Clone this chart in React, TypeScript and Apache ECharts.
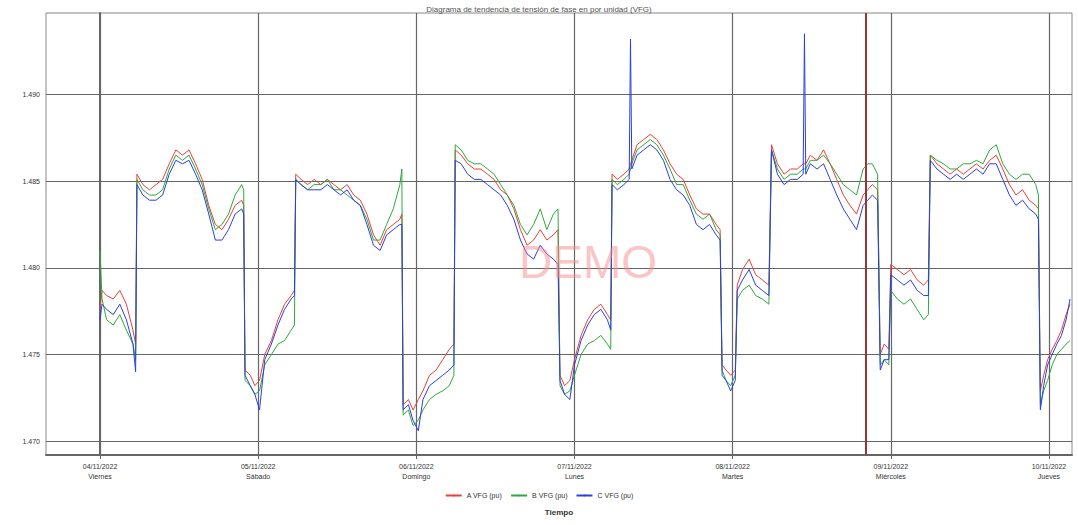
import React, { useEffect, useRef } from "react";
import * as echarts from "echarts";

// hours since 04/11/2022 00:00
const hours = [
  0, 0.3, 1, 2, 3, 4, 5, 5.4,
  5.6, 6.5, 7.5, 8.5, 9.5, 10.5, 11.5, 12.5, 13.5, 14.5, 15.5, 16.5, 17.5, 18.5, 19.5, 20.5, 21.5, 21.8,
  22.0, 22.8, 23.5, 24.2, 25, 26, 27, 28, 29, 29.5,
  29.7, 30.5, 31.5, 32.5, 33.5, 34.5, 35.5, 36.5, 37.5, 38.5, 39.5, 40.5, 41.5, 42.5, 43.5, 44.5, 45.5, 45.8,
  46.0, 46.8, 47.5, 48.3, 49, 50, 51, 52, 53, 53.7,
  53.9, 54.8, 55.8, 56.8, 57.8, 58.8, 59.8, 60.8, 61.8, 62.8, 63.8, 64.8, 65.8, 66.8, 67.8, 68.8, 69.5,
  69.8, 70.5, 71.3, 72, 73, 74, 75, 76, 77, 77.5,
  77.7, 78.5, 79.5, 80.3, 80.5, 80.7, 81.5, 82.5, 83.5, 84.5, 85.5, 86.5, 87.5, 88.5, 89.5, 90.5, 91.5, 92.5, 93.5, 94.1,
  94.4, 95, 95.7, 96.4,
  96.7, 97.5, 98.5, 99.5, 100.5, 101.5,
  101.9, 102.8, 103.8, 104.8, 105.8, 106.7, 106.9, 107.1, 107.8, 108.8, 109.8, 110.8, 111.8, 112.8, 113.8, 114.8, 115.8, 116.5, 117.2, 118.0,
  118.4, 119.0, 119.7,
  120, 121, 122, 123, 124, 125, 125.7,
  126, 127, 128, 129, 130, 131, 132, 133, 134, 135, 136, 137, 138, 139, 140, 141, 142, 142.4,
  142.7, 143.2, 143.8, 144.5, 145.2, 145.9, 146.6, 147.2,
];

const phaseA = [
  1.4776, 1.4787, 1.4784, 1.4782, 1.4787, 1.4779, 1.4764, 1.4756,
  1.4854, 1.4848, 1.4845, 1.4848, 1.4851, 1.486, 1.4868, 1.4865, 1.4868, 1.486, 1.4851, 1.4836, 1.4825, 1.4822, 1.4828, 1.4836, 1.4839, 1.4836,
  1.4741, 1.4738, 1.4732, 1.4735, 1.475, 1.4758, 1.477, 1.4779, 1.4784, 1.4787,
  1.4854, 1.4851, 1.4848, 1.4851, 1.4848, 1.4851, 1.4848, 1.4845, 1.4848, 1.4842, 1.4839, 1.4831, 1.4819, 1.4813, 1.4822, 1.4825, 1.4828, 1.4831,
  1.4721, 1.4724, 1.4718, 1.4724, 1.4729, 1.4738, 1.4741, 1.4747, 1.4753, 1.4756,
  1.4868, 1.4865, 1.486, 1.4857, 1.4857, 1.4854, 1.4851, 1.4845, 1.4842, 1.4834, 1.4822, 1.4813, 1.4816, 1.4822, 1.4816, 1.4819, 1.4822,
  1.4738, 1.4732, 1.4735, 1.4747, 1.4761, 1.477, 1.4776, 1.4779, 1.4773, 1.477,
  1.4854, 1.4851, 1.4854, 1.4857, 1.486, 1.4862, 1.4871, 1.4874, 1.4877, 1.4874, 1.4868, 1.486, 1.4854, 1.4851, 1.4842, 1.4834, 1.4831, 1.4831, 1.4825, 1.4822,
  1.4744, 1.4741, 1.4738, 1.4741,
  1.479, 1.4799, 1.4805, 1.4796, 1.4793, 1.479,
  1.4871, 1.486, 1.4854, 1.4857, 1.4857, 1.486, 1.486, 1.486, 1.4865, 1.4862, 1.4868, 1.486, 1.4851, 1.4842, 1.4836, 1.4831, 1.4842, 1.4845, 1.4848, 1.4845,
  1.475, 1.4756, 1.4753,
  1.4802, 1.4799, 1.4796, 1.4799, 1.4793, 1.479, 1.4793,
  1.4865, 1.486, 1.4857, 1.4854, 1.4857, 1.4854, 1.4857, 1.486, 1.4857, 1.4862, 1.4865, 1.4857, 1.4848, 1.4842, 1.4845, 1.4839, 1.4836, 1.4834,
  1.4729, 1.4738, 1.4747, 1.4753, 1.4758, 1.4764, 1.4773, 1.4779,
];

const phaseB = [
  1.481, 1.4782, 1.477, 1.4767, 1.4773, 1.4764, 1.4756, 1.4747,
  1.4851, 1.4845, 1.4842, 1.4842, 1.4845, 1.4857, 1.4865, 1.4862, 1.4865, 1.4857, 1.4848, 1.4834, 1.4822, 1.4825, 1.4831, 1.4842, 1.4848, 1.4845,
  1.4735, 1.4732, 1.4727, 1.4729, 1.4744, 1.475, 1.4756, 1.4758, 1.4764, 1.4767,
  1.4851, 1.4848, 1.4845, 1.4848, 1.4848, 1.4851, 1.4845, 1.4845, 1.4842, 1.4839, 1.4836, 1.4828, 1.4816, 1.4816, 1.4825, 1.4834, 1.4848, 1.4857,
  1.4715, 1.4718, 1.4709, 1.4712, 1.4718, 1.4724, 1.4727, 1.4729, 1.4732, 1.4738,
  1.4871, 1.4868, 1.4862, 1.486, 1.486, 1.4857, 1.4854, 1.4848, 1.4842, 1.4836, 1.4825, 1.4819, 1.4825, 1.4834, 1.4822, 1.4831, 1.4834,
  1.4732, 1.4727, 1.4729, 1.4738, 1.475, 1.4756, 1.4758, 1.4761, 1.4756, 1.4753,
  1.4851, 1.4848, 1.4851, 1.4854, 1.4857, 1.486, 1.4868, 1.4871, 1.4874, 1.4871, 1.4865, 1.4857, 1.4848, 1.4848, 1.4839, 1.4831, 1.4828, 1.4831, 1.4822, 1.4819,
  1.4741, 1.4735, 1.4732, 1.4738,
  1.4782, 1.4787, 1.479, 1.4784, 1.4782, 1.4779,
  1.4868, 1.4857, 1.4851, 1.4854, 1.4854, 1.4857, 1.4857, 1.4857, 1.4862, 1.4862, 1.4865, 1.486, 1.4854, 1.4848, 1.4845, 1.4842, 1.4857, 1.486, 1.486, 1.4854,
  1.4744, 1.4747, 1.4744,
  1.4787, 1.4782, 1.4779, 1.4782, 1.4776, 1.477, 1.4773,
  1.4865, 1.4862, 1.486, 1.4857, 1.4857, 1.486, 1.486, 1.4862, 1.486, 1.4868, 1.4871, 1.486, 1.4854, 1.4851, 1.4854, 1.4854, 1.4848, 1.4842,
  1.4721, 1.4729, 1.4735, 1.4744, 1.475, 1.4753, 1.4756, 1.4758,
];

const phaseC = [
  1.477, 1.4779, 1.4776, 1.4773, 1.4779, 1.477, 1.4756, 1.474,
  1.4848, 1.4842, 1.4839, 1.4839, 1.4842, 1.4854, 1.4862, 1.486, 1.4862, 1.4854, 1.4845, 1.4831, 1.4816, 1.4816, 1.4822, 1.4831, 1.4834, 1.4831,
  1.4738, 1.4732, 1.4727, 1.4718, 1.4747, 1.4756, 1.4767, 1.4776, 1.4782, 1.4784,
  1.4851, 1.4848, 1.4845, 1.4845, 1.4845, 1.4848, 1.4845, 1.4842, 1.4845, 1.4839, 1.4836, 1.4825, 1.4813, 1.481, 1.4819, 1.4822, 1.4825, 1.4825,
  1.4718, 1.4721, 1.4712, 1.4706, 1.4724, 1.4732, 1.4735, 1.4738, 1.4741, 1.4744,
  1.4862, 1.486, 1.4854, 1.4851, 1.4851, 1.4848, 1.4845, 1.4842, 1.4836, 1.4828, 1.4816, 1.4808, 1.4805, 1.4813, 1.4808, 1.4805, 1.4802,
  1.4735, 1.4727, 1.4724, 1.4744, 1.4758, 1.4767, 1.4773, 1.4776, 1.477, 1.4764,
  1.4848, 1.4845, 1.4848, 1.4851, 1.4932, 1.4857, 1.4865, 1.4868, 1.4871, 1.4868, 1.4862, 1.4851, 1.4845, 1.4842, 1.4836, 1.4825, 1.4822, 1.4825, 1.4819, 1.4816,
  1.4738, 1.4735, 1.4729, 1.4735,
  1.4787, 1.4793, 1.4799, 1.479, 1.4787, 1.4784,
  1.4868, 1.4854, 1.4848, 1.4851, 1.4851, 1.4854, 1.4935, 1.4854, 1.486, 1.4857, 1.486, 1.4851, 1.4842, 1.4834, 1.4828, 1.4822, 1.4836, 1.4839, 1.4842, 1.4839,
  1.4741, 1.4747, 1.4747,
  1.4796, 1.4793, 1.479, 1.4793, 1.4787, 1.4784, 1.4784,
  1.4862, 1.4857, 1.4854, 1.4851, 1.4854, 1.4851, 1.4854, 1.4857, 1.4854, 1.486, 1.486, 1.4851, 1.4842, 1.4836, 1.4839, 1.4834, 1.4831, 1.4828,
  1.4718, 1.4732, 1.4744, 1.475, 1.4756, 1.4761, 1.477, 1.4782,
];

const dayTicks = [0, 24, 48, 72, 96, 120, 144];
const dayDates = ["04/11/2022", "05/11/2022", "06/11/2022", "07/11/2022", "08/11/2022", "09/11/2022", "10/11/2022"];
const dayNames = ["Viernes", "Sábado", "Domingo", "Lunes", "Martes", "Miércoles", "Jueves"];
const yTicks = [1.47, 1.475, 1.48, 1.485, 1.49];
const seriesNames = ["A VFG (pu)", "B VFG (pu)", "C VFG (pu)"];
const seriesColors = ["#e8403a", "#2fa83a", "#2a3fe0"];
const markerHour = 116.2;

export default function App() {
  const ref = useRef<HTMLDivElement>(null);
  useEffect(() => {
    if (!ref.current) return;
    const chart = echarts.init(ref.current, null, { renderer: "svg" });
    const values = [phaseA, phaseB, phaseC];
    const font = "Liberation Sans, Arial, sans-serif";
    chart.setOption({
      animation: false,
      backgroundColor: "#ffffff",
      textStyle: { fontFamily: font },
      title: {
        text: "Diagrama de tendencia de tensión de fase en por unidad (VFG)",
        left: "center",
        top: 0,
        textStyle: { fontSize: 8, color: "#555", fontWeight: "normal", fontFamily: font },
      },
      grid: { left: 46, right: 6, top: 13, bottom: 70, show: true, borderColor: "#888", borderWidth: 1 },
      legend: {
        bottom: 21,
        left: "center",
        itemWidth: 16,
        itemHeight: 2,
        itemGap: 8,
        textStyle: { fontSize: 7, color: "#333", fontFamily: font },
        data: seriesNames,
      },
      xAxis: {
        type: "value",
        min: -8.2,
        max: 147.5,
        name: "Tiempo",
        nameLocation: "middle",
        nameGap: 53,
        nameTextStyle: { fontSize: 8, fontWeight: "bold", color: "#333" },
        axisLine: { show: true, lineStyle: { color: "#666", width: 2 } },
        axisTick: { show: true, customValues: dayTicks, length: 4, lineStyle: { color: "#666" } },
        axisLabel: {
          customValues: dayTicks,
          fontSize: 7,
          color: "#333",
          lineHeight: 10,
          margin: 6,
          formatter: (v: number) => {
            const i = Math.round(v / 24);
            return dayDates[i] + "\n" + dayNames[i];
          },
        },
        splitLine: { show: true, lineStyle: { color: "#666", width: 1.2 } },
      },
      yAxis: {
        type: "value",
        min: 1.4692,
        max: 1.4947,
        axisLine: { show: true, lineStyle: { color: "#666", width: 2 } },
        axisTick: { show: true, customValues: yTicks, length: 4, lineStyle: { color: "#666" } },
        axisLabel: {
          customValues: yTicks,
          fontSize: 7,
          color: "#333",
          margin: 6,
          formatter: (v: number) => v.toFixed(3),
        },
        splitLine: { show: true, lineStyle: { color: "#666", width: 1.2 } },
      },
      graphic: [
        {
          type: "text",
          left: 519,
          top: 239,
          style: {
            text: "DEMO",
            fontSize: 46,
            fill: "rgba(245,140,140,0.5)",
            fontFamily: font,
          },
          z: 100,
        },
      ],
      series: seriesNames.map((name, si) => ({
        name,
        type: "line",
        data: hours.map((h, i) => [h, values[si][i]]),
        showSymbol: false,
        symbol: "none",
        color: seriesColors[si],
        lineStyle: { width: 1, color: seriesColors[si] },
        z: 2 + si,
        markLine:
          si === 0
            ? {
                silent: true,
                symbol: "none",
                label: { show: false },
                lineStyle: { color: "#9a3535", width: 2, type: "solid" },
                data: [{ xAxis: markerHour }],
              }
            : undefined,
      })),
    });
    return () => chart.dispose();
  }, []);
  return (
    <div
      ref={ref}
      style={{ position: "absolute", left: 0, top: 0, width: 1078, height: 525 }}
    />
  );
}
